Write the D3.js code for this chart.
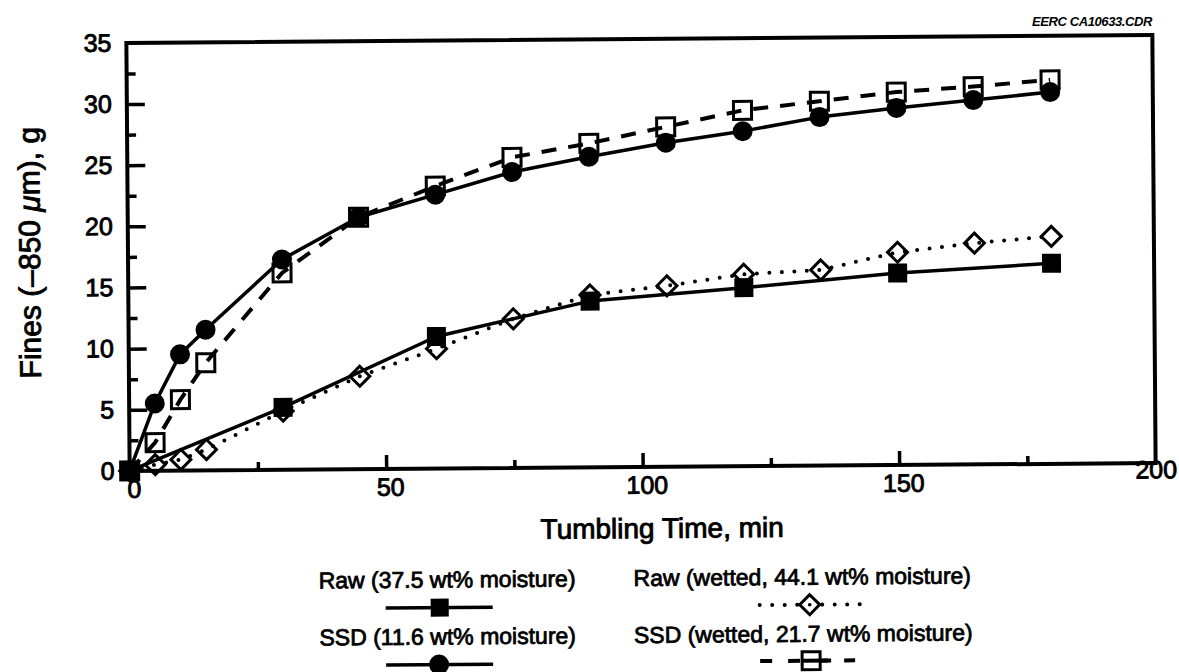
<!DOCTYPE html>
<html>
<head>
<meta charset="utf-8">
<script src="https://cdn.jsdelivr.net/npm/d3@7"></script>
<style>
  body { margin: 0; background: #fff; }
  svg text { font-family: "Liberation Sans", Arial, Helvetica, sans-serif; fill: #000; }
</style>
</head>
<body>
<div id="chart"></div>
<script>
// data
var timeAll = [0, 5, 10, 15, 30, 45, 60, 75, 90, 105, 120, 135, 150, 165, 180];
var timeRaw = [0, 30, 60, 90, 120, 150, 180];

var finesRaw    = [0, 5.1, 10.8, 13.6, 14.6, 15.7, 16.4];
var finesRawWet = [0, 0.5, 0.9, 1.7, 4.8, 7.6, 9.8, 12.2, 14.1, 14.8, 15.7, 16.0, 17.4, 18.1, 18.6];
var finesSSD    = [0, 5.5, 9.5, 11.5, 17.2, 20.6, 22.4, 24.2, 25.4, 26.5, 27.4, 28.5, 29.2, 29.8, 30.4];
var finesSSDWet = [0, 2.3, 5.8, 8.8, 16.1, 20.6, 23.1, 25.4, 26.5, 27.8, 29.1, 29.8, 30.5, 30.9, 31.4];

var xLabels = [0, 50, 100, 150, 200];
var xMajor  = [50, 100, 150];
var xMinor  = [25, 75, 125, 175];
var yLabels = [0, 5, 10, 15, 20, 25, 30, 35];
var yMajor  = [5, 10, 15, 20, 25, 30];
var yMinor  = [2.5, 7.5, 12.5, 17.5, 22.5, 27.5, 32.5];

var legendNames = [
  "Raw (37.5 wt% moisture)",
  "Raw (wetted, 44.1 wt% moisture)",
  "SSD (11.6 wt% moisture)",
  "SSD (wetted, 21.7 wt% moisture)"
];

var W = 1179, H = 672;
var svg = d3.select("#chart").append("svg")
    .attr("width", W)
    .attr("height", H);

// the scan is very slightly rotated
var root = svg.append("g").attr("transform", "rotate(-0.44 641 253)");

var x = d3.scaleLinear().domain([0, 200]).range([128, 1154]);
var y = d3.scaleLinear().domain([0, 35]).range([467, 39]);

// ticks (inside the frame)
function tickAxis(axis, tr) {
  var g = root.append("g").attr("transform", tr).call(axis);
  g.select(".domain").remove();
  g.selectAll(".tick line").attr("stroke", "#000").attr("stroke-width", 3.5);
  return g;
}
tickAxis(d3.axisLeft(y).tickValues(yMajor).tickSize(-18).tickFormat(""), "translate(" + x(0) + ",0)");
tickAxis(d3.axisLeft(y).tickValues(yMinor).tickSize(-9).tickFormat(""), "translate(" + x(0) + ",0)");
tickAxis(d3.axisBottom(x).tickValues(xMajor).tickSize(-14).tickFormat(""), "translate(0," + y(0) + ")");
tickAxis(d3.axisBottom(x).tickValues(xMinor).tickSize(-8).tickFormat(""), "translate(0," + y(0) + ")");

// tick labels
var yl = tickAxis(d3.axisLeft(y).tickValues(yLabels).tickSize(0).tickPadding(15), "translate(" + x(0) + ",0)");
var xl = tickAxis(d3.axisBottom(x).tickValues(xLabels).tickSize(0).tickPadding(9), "translate(0," + y(0) + ")");
root.selectAll(".tick text")
    .attr("font-size", 25)
    .attr("font-family", "'Liberation Sans', Arial, sans-serif")
    .attr("fill", "#000")
    .attr("stroke", "#000")
    .attr("stroke-width", 0.9);
xl.selectAll(".tick text").attr("dx", 4);
xl.selectAll(".tick text").filter(function(d) { return d === 200; }).attr("dy", "0.25em").attr("dx", 0);

// frame
root.append("rect")
    .attr("x", x(0)).attr("y", y(35))
    .attr("width", x(200) - x(0))
    .attr("height", y(0) - y(35))
    .attr("fill", "none")
    .attr("stroke", "#000")
    .attr("stroke-width", 4);

// lines
var line = d3.line()
    .x(function(d) { return x(d[0]); })
    .y(function(d) { return y(d[1]); });

var rawPts    = d3.zip(timeRaw, finesRaw);
var rawWetPts = d3.zip(timeAll, finesRawWet);
var ssdPts    = d3.zip(timeAll, finesSSD);
var ssdWetPts = d3.zip(timeAll, finesSSDWet);

root.append("path").datum(rawWetPts).attr("d", line)
    .attr("fill", "none").attr("stroke", "#000").attr("stroke-width", 4)
    .attr("stroke-linecap", "round").attr("stroke-dasharray", "0 12.5");
root.append("path").datum(ssdWetPts).attr("d", line)
    .attr("fill", "none").attr("stroke", "#000").attr("stroke-width", 4)
    .attr("stroke-dasharray", "15 12");
root.append("path").datum(rawPts).attr("d", line)
    .attr("fill", "none").attr("stroke", "#000").attr("stroke-width", 3.5)
    .attr("stroke-linejoin", "round");
root.append("path").datum(ssdPts).attr("d", line)
    .attr("fill", "none").attr("stroke", "#000").attr("stroke-width", 3.5)
    .attr("stroke-linejoin", "round");

// markers
var diamond = "M0,-10L10,0L0,10L-10,0Z";

function diamonds(g, pts) {
  g.selectAll(null).data(pts).enter().append("path")
      .attr("d", diamond)
      .attr("transform", function(d) { return "translate(" + x(d[0]) + "," + y(d[1]) + ")"; })
      .attr("fill", "none").attr("stroke", "#000").attr("stroke-width", 3);
}
function openSquares(g, pts) {
  g.selectAll(null).data(pts).enter().append("rect")
      .attr("x", function(d) { return x(d[0]) - 9; })
      .attr("y", function(d) { return y(d[1]) - 9; })
      .attr("width", 18).attr("height", 18)
      .attr("fill", "none").attr("stroke", "#000").attr("stroke-width", 3);
}
function filledSquares(g, pts) {
  g.selectAll(null).data(pts).enter().append("rect")
      .attr("x", function(d) { return x(d[0]) - 9.5; })
      .attr("y", function(d) { return y(d[1]) - 9.5; })
      .attr("width", 19).attr("height", 19)
      .attr("fill", "#000");
}
function circles(g, pts) {
  g.selectAll(null).data(pts).enter().append("circle")
      .attr("cx", function(d) { return x(d[0]); })
      .attr("cy", function(d) { return y(d[1]); })
      .attr("r", 10)
      .attr("fill", "#000");
}

var mk = root.append("g");
diamonds(mk, rawWetPts);
openSquares(mk, ssdWetPts);
circles(mk, ssdPts);
filledSquares(mk, rawPts);

// axis titles
root.append("text")
    .attr("x", 660).attr("y", 538)
    .attr("text-anchor", "middle")
    .attr("font-size", 28)
    .attr("stroke", "#000").attr("stroke-width", 0.9)
    .text("Tumbling Time, min");

var yt = root.append("text")
    .attr("transform", "translate(40,248) rotate(-90)")
    .attr("text-anchor", "middle")
    .attr("font-size", 30)
    .attr("stroke", "#000").attr("stroke-width", 0.9);
yt.append("tspan").text("Fines (\u2013850 ");
yt.append("tspan").attr("font-style", "italic").text("\u03bc");
yt.append("tspan").text("m), g");

// file tag
svg.append("text")
    .attr("x", 1152).attr("y", 26)
    .attr("text-anchor", "end")
    .attr("font-size", 13)
    .attr("font-weight", "bold")
    .attr("font-style", "italic")
    .attr("letter-spacing", -0.4)
    .text("EERC CA10633.CDR");

// legend
var lg = root.append("g");
var legendText = [
  {name: legendNames[0], x: 573, y: 586, anchor: "end"},
  {name: legendNames[1], x: 631, y: 586, anchor: "start"},
  {name: legendNames[2], x: 573, y: 643, anchor: "end"},
  {name: legendNames[3], x: 631, y: 643, anchor: "start"}
];
lg.selectAll("text").data(legendText).enter().append("text")
    .attr("x", function(d) { return d.x; })
    .attr("y", function(d) { return d.y; })
    .attr("text-anchor", function(d) { return d.anchor; })
    .attr("font-size", 23)
    .attr("stroke", "#000").attr("stroke-width", 0.8)
    .text(function(d) { return d.name; });

// legend symbols
lg.append("line").attr("x1", 383).attr("x2", 490).attr("y1", 606).attr("y2", 606)
    .attr("stroke", "#000").attr("stroke-width", 3.5);
lg.append("rect").attr("x", 428).attr("y", 597).attr("width", 18).attr("height", 18).attr("fill", "#000");

lg.append("line").attr("x1", 383).attr("x2", 490).attr("y1", 663).attr("y2", 663)
    .attr("stroke", "#000").attr("stroke-width", 3.5);
lg.append("circle").attr("cx", 436).attr("cy", 663).attr("r", 10).attr("fill", "#000");

lg.append("line").attr("x1", 757).attr("x2", 858).attr("y1", 606).attr("y2", 606)
    .attr("stroke", "#000").attr("stroke-width", 4)
    .attr("stroke-linecap", "round").attr("stroke-dasharray", "0 12.5");
lg.append("path").attr("d", diamond).attr("transform", "translate(807,606)")
    .attr("fill", "#fff").attr("stroke", "#000").attr("stroke-width", 3);
lg.append("circle").attr("cx", 807).attr("cy", 606).attr("r", 1.8).attr("fill", "#000");

lg.append("line").attr("x1", 757).attr("x2", 852).attr("y1", 662).attr("y2", 662)
    .attr("stroke", "#000").attr("stroke-width", 4)
    .attr("stroke-dasharray", "12 16");
lg.append("rect").attr("x", 799).attr("y", 653).attr("width", 18).attr("height", 18)
    .attr("fill", "#fff").attr("stroke", "#000").attr("stroke-width", 3);
lg.append("line").attr("x1", 799).attr("x2", 828).attr("y1", 662).attr("y2", 662)
    .attr("stroke", "#000").attr("stroke-width", 4);
</script>
</body>
</html>
